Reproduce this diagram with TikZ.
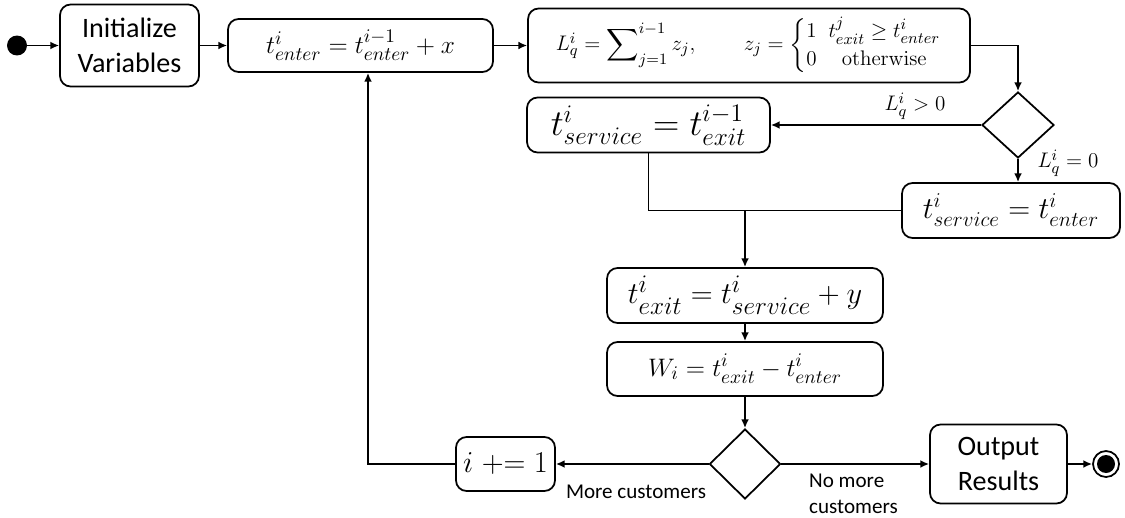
\documentclass[tikz,border=0pt]{standalone}
\usepackage{amsmath}
\usepackage{amssymb}
\usepackage[no-math]{fontspec}
\setmainfont{Carlito}
\usepackage{tikz}
\usetikzlibrary{shapes.geometric,arrows.meta}
\newcommand{\tsub}[2]{t_{#1}^{#2}}

\begin{document}
\begin{tikzpicture}[x=0.02cm,y=-0.02cm,
    box/.style={draw,rounded corners=6pt,line width=1pt,inner sep=0pt,align=center},
    choice/.style={draw,diamond,line width=1pt,inner sep=0pt},
    flow/.style={line width=1pt,-{Latex[length=5pt,width=4.5pt]}},
    wire/.style={line width=1pt}]
    \useasboundingbox (0,0) rectangle (1125,517);

    % top row
    \node[circle,fill,inner sep=0pt,minimum size=0.4cm] (start) at (17,45.5) {};
    \node[box,minimum width=2.78cm,minimum height=1.64cm,font=\fontsize{16}{20}\selectfont] (init) at (129.5,45.5) {Initialize\\Variables};
    \node[box,minimum width=5.3cm,minimum height=1.06cm,font=\fontsize{15.5}{18}\selectfont] (enter) at (360.5,45.5) {$\tsub{enter}{i} = \tsub{enter}{i-1} + x$};
    \node[box,minimum width=8.84cm,minimum height=1.48cm,font=\fontsize{12.8}{16}\selectfont] (queue) at (749,45.5)
        {$L_q^i = \displaystyle\sum\nolimits_{j=1}^{i-1} z_j, \qquad z_j = \left\{\begin{array}{@{}l@{\;\;}c@{}} 1 & \tsub{exit}{j} \geq \tsub{enter}{i} \\ 0 & \mathrm{otherwise} \end{array}\right.$};

    % queue check
    \node[choice,minimum width=1.44cm,minimum height=1.32cm] (check) at (1018,125) {};
    \node[box,minimum width=4.86cm,minimum height=1.1cm,font=\fontsize{19.5}{23}\selectfont] (busy) at (648.5,125) {$\tsub{service}{i} = \tsub{exit}{i-1}$};
    \node[box,minimum width=4.36cm,minimum height=1.1cm,font=\fontsize{18.5}{22}\selectfont] (idle) at (1011,210.5) {$\tsub{service}{i} = \tsub{enter}{i}$};
    \node[font=\fontsize{12.5}{15}\selectfont] (gt) at (915,106) {$L_q^i > 0$};
    \node[font=\fontsize{12.5}{15}\selectfont] (eq) at (1068,163) {$L_q^i = 0$};

    % service and waiting
    \node[box,minimum width=5.52cm,minimum height=1.1cm,font=\fontsize{19}{23}\selectfont] (exit) at (745,295.5) {$\tsub{exit}{i} = \tsub{service}{i} + y$};
    \node[box,minimum width=5.52cm,minimum height=1.08cm,font=\fontsize{15.5}{18}\selectfont] (wait) at (745,369) {$W_i = \tsub{exit}{i} - \tsub{enter}{i}$};

    % bottom row
    \node[choice,minimum width=1.42cm,minimum height=1.4cm] (more) at (745,464) {};
    \node[box,minimum width=1.98cm,minimum height=1.08cm,font=\fontsize{16}{19}\selectfont] (inc) at (505.5,464) {$i \mathrel{{+}{=}} 1$};
    \node[box,minimum width=2.74cm,minimum height=1.58cm,font=\fontsize{16}{20}\selectfont] (out) at (998.5,464) {Output\\Results};
    \node[circle,draw,line width=1pt,minimum size=0.52cm,inner sep=0pt] (stop) at (1106,464) {};
    \fill (stop) circle (0.18cm);
    \node[font=\fontsize{12}{14}\selectfont] (yes) at (636,492) {More customers};
    \node[font=\fontsize{12}{15}\selectfont,align=left,anchor=west] (no) at (803,494) {No more\\customers};

    % connectors
    \draw[flow] (start) -- (init);
    \draw[flow] (init) -- (enter);
    \draw[flow] (enter) -- (queue);
    \draw[flow] (queue.east) -| (check.north);
    \draw[flow] (check.west) -- (busy.east);
    \draw[flow] (check.south) -- (check.south |- idle.north);
    \draw[wire] (busy.south) |- (idle.west);
    \coordinate (merge) at (exit.north |- idle.west);
    \draw[flow] (merge) -- (exit.north);
    \draw[flow] (exit) -- (wait);
    \draw[flow] (wait) -- (more);
    \draw[flow] (more) -- (inc);
    \draw[flow] (more) -- (out);
    \draw[flow] (out) -- (stop);
    \coordinate (back) at (368,464);
    \draw[flow] (inc.west) -- (back) -- (back |- enter.south);
\end{tikzpicture}
\end{document}
